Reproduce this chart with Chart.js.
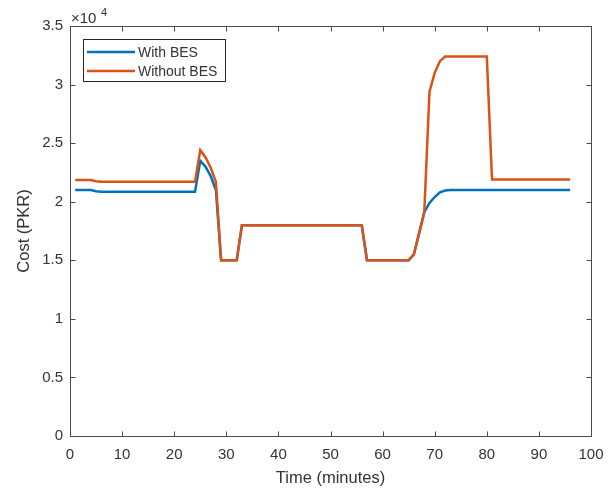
<!DOCTYPE html>
<html>
<head>
<meta charset="utf-8">
<script src="https://cdn.jsdelivr.net/npm/chart.js@4.4.0/dist/chart.umd.min.js"></script>
<style>
  html, body { margin: 0; padding: 0; background: #fff; }
  #wrap { width: 616px; height: 491px; position: relative; }
</style>
</head>
<body>
<div id="wrap"><canvas id="costChart"></canvas></div>
<script>
const time = [
  1, 2, 3, 4, 5, 6, 7, 8, 9, 10, 11, 12, 13, 14, 15, 16, 17, 18, 19, 20, 21, 22, 23, 24,
  25, 26, 27, 28, 29, 30, 31, 32, 33, 34, 35, 36, 37, 38, 39, 40, 41, 42, 43, 44, 45, 46, 47, 48,
  49, 50, 51, 52, 53, 54, 55, 56, 57, 58, 59, 60, 61, 62, 63, 64, 65, 66, 67, 68, 69, 70, 71, 72,
  73, 74, 75, 76, 77, 78, 79, 80, 81, 82, 83, 84, 85, 86, 87, 88, 89, 90, 91, 92, 93, 94, 95, 96
];

const withBES = [
  21000, 21000, 21000, 21000, 20900, 20850, 20850, 20850, 20850, 20850, 20850, 20850,
  20850, 20850, 20850, 20850, 20850, 20850, 20850, 20850, 20850, 20850, 20850, 20850,
  23500, 23000, 22200, 21000, 15000, 15000, 15000, 15000, 18000, 18000, 18000, 18000,
  18000, 18000, 18000, 18000, 18000, 18000, 18000, 18000, 18000, 18000, 18000, 18000,
  18000, 18000, 18000, 18000, 18000, 18000, 18000, 18000, 15000, 15000, 15000, 15000,
  15000, 15000, 15000, 15000, 15000, 15500, 17300, 19100, 19900, 20400, 20800, 20950,
  21000, 21000, 21000, 21000, 21000, 21000, 21000, 21000, 21000, 21000, 21000, 21000,
  21000, 21000, 21000, 21000, 21000, 21000, 21000, 21000, 21000, 21000, 21000, 21000
];

const withoutBES = [
  21850, 21850, 21850, 21850, 21750, 21700, 21700, 21700, 21700, 21700, 21700, 21700,
  21700, 21700, 21700, 21700, 21700, 21700, 21700, 21700, 21700, 21700, 21700, 21700,
  24400, 23800, 22900, 21700, 15000, 15000, 15000, 15000, 18000, 18000, 18000, 18000,
  18000, 18000, 18000, 18000, 18000, 18000, 18000, 18000, 18000, 18000, 18000, 18000,
  18000, 18000, 18000, 18000, 18000, 18000, 18000, 18000, 15000, 15000, 15000, 15000,
  15000, 15000, 15000, 15000, 15000, 15500, 17300, 19100, 29400, 31000, 32000, 32400,
  32400, 32400, 32400, 32400, 32400, 32400, 32400, 32400, 21900, 21900, 21900, 21900,
  21900, 21900, 21900, 21900, 21900, 21900, 21900, 21900, 21900, 21900, 21900, 21900
];

const seriesNames = ["With BES", "Without BES"];
const xTicks = [0, 10, 20, 30, 40, 50, 60, 70, 80, 90, 100];
const yTicks = [0, 5000, 10000, 15000, 20000, 25000, 30000, 35000];

const blue = "#0072BD";
const orange = "#D95319";
const axisColor = "#4a4a4a";
const textColor = "#333333";
const fontFamily = "'Liberation Sans', Arial, Helvetica, sans-serif";

const toPoints = (vals) => vals.map((v, i) => ({ x: time[i], y: v }));

// MATLAB-style box with inward ticks, exponent label and legend
const matlabAxes = {
  id: "matlabAxes",
  afterDraw(chart) {
    const { ctx, chartArea: a, scales } = chart;
    const L = Math.round(a.left) + 0.5, R = Math.round(a.right) + 0.5;
    const T = Math.round(a.top) + 0.5, B = Math.round(a.bottom) + 0.5;
    const tl = 5;
    ctx.save();
    ctx.strokeStyle = axisColor;
    ctx.lineWidth = 1;
    ctx.strokeRect(L, T, R - L, B - T);
    ctx.beginPath();
    xTicks.forEach((v) => {
      const px = Math.round(scales.x.getPixelForValue(v)) + 0.5;
      ctx.moveTo(px, B); ctx.lineTo(px, B - tl);
      ctx.moveTo(px, T); ctx.lineTo(px, T + tl);
    });
    yTicks.forEach((v) => {
      const py = Math.round(scales.y.getPixelForValue(v)) + 0.5;
      ctx.moveTo(L, py); ctx.lineTo(L + tl, py);
      ctx.moveTo(R, py); ctx.lineTo(R - tl, py);
    });
    ctx.stroke();

    // x10^4 exponent
    ctx.fillStyle = textColor;
    ctx.textBaseline = "alphabetic";
    ctx.textAlign = "left";
    ctx.font = "15px " + fontFamily;
    ctx.fillText("\u00d710", 71, 23);
    ctx.font = "11px " + fontFamily;
    ctx.fillText("4", 101, 16);

    // legend
    const bx = 83.5, by = 39.5, bw = 142, bh = 42;
    ctx.fillStyle = "#fff";
    ctx.fillRect(bx, by, bw, bh);
    ctx.strokeStyle = "#262626";
    ctx.strokeRect(bx, by, bw, bh);
    const colors = [blue, orange];
    const rows = [52, 71];
    ctx.font = "14px " + fontFamily;
    ctx.textBaseline = "middle";
    seriesNames.forEach((name, i) => {
      ctx.strokeStyle = colors[i];
      ctx.lineWidth = 2.5;
      ctx.beginPath();
      ctx.moveTo(87, rows[i]);
      ctx.lineTo(135, rows[i]);
      ctx.stroke();
      ctx.fillStyle = textColor;
      ctx.fillText(name, 138, rows[i] + 1);
    });
    ctx.restore();
  }
};

new Chart(document.getElementById("costChart"), {
  type: "line",
  data: {
    datasets: [
      {
        label: seriesNames[0],
        data: toPoints(withBES),
        borderColor: blue,
        borderWidth: 2.5,
        pointRadius: 0,
        tension: 0,
        fill: false,
        order: 1,
      },
      {
        label: seriesNames[1],
        data: toPoints(withoutBES),
        borderColor: orange,
        borderWidth: 2.5,
        pointRadius: 0,
        tension: 0,
        fill: false,
        order: 0,
      },
    ],
  },
  options: {
    responsive: true,
    maintainAspectRatio: false,
    animation: false,
    layout: { padding: { left: 0, right: 25, top: 26, bottom: 0 } },
    plugins: {
      legend: { display: false },
      tooltip: { enabled: false },
    },
    scales: {
      x: {
        type: "linear",
        min: 0,
        max: 100,
        afterFit: (s) => { s.height = 55; },
        afterBuildTicks: (s) => { s.ticks = xTicks.map((v) => ({ value: v })); },
        ticks: {
          color: textColor,
          font: { family: fontFamily, size: 15 },
          padding: 10,
          maxRotation: 0,
        },
        grid: { display: false, drawTicks: false },
        border: { display: false },
        title: {
          display: true,
          text: "Time (minutes)",
          color: textColor,
          font: { family: fontFamily, size: 16.5 },
          padding: { top: 0, bottom: 3 },
        },
      },
      y: {
        min: 0,
        max: 35000,
        afterFit: (s) => { s.width = 70; },
        afterBuildTicks: (s) => { s.ticks = yTicks.map((v) => ({ value: v })); },
        ticks: {
          color: textColor,
          font: { family: fontFamily, size: 15 },
          padding: 7,
          callback: (v) => String(v / 10000),
        },
        grid: { display: false, drawTicks: false },
        border: { display: false },
        title: {
          display: true,
          text: "Cost (PKR)",
          color: textColor,
          font: { family: fontFamily, size: 16.5 },
          padding: { top: 15, bottom: 0 },
        },
      },
    },
  },
  plugins: [matlabAxes],
});
</script>
</body>
</html>
